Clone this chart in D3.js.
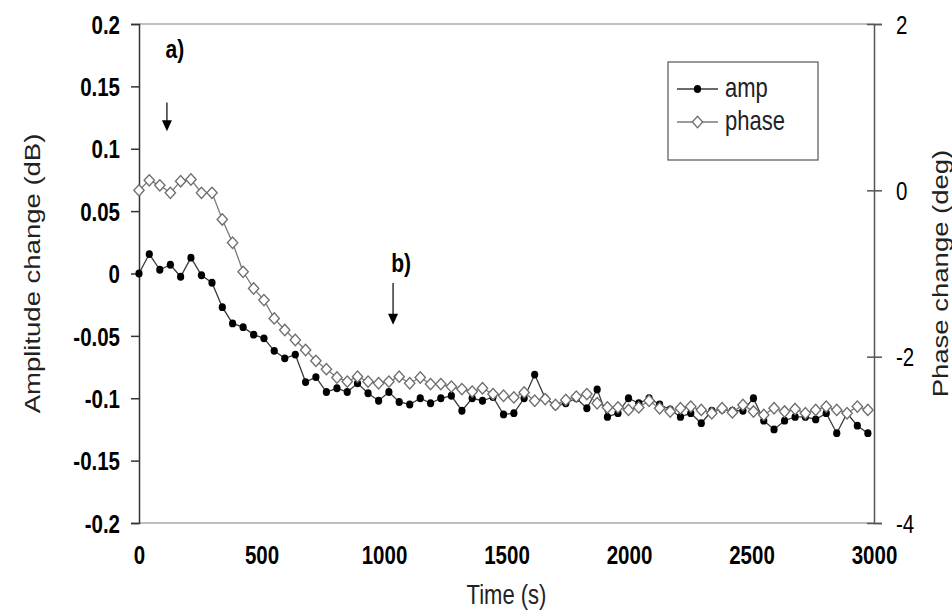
<!DOCTYPE html>
<html>
<head>
<meta charset="utf-8">
<script src="https://cdn.jsdelivr.net/npm/d3@7"></script>
<style>
  body { margin: 0; background: #fff; }
  text { font-family: "Liberation Sans", Arial, sans-serif; }
</style>
</head>
<body>
<div id="chart"></div>
<script>
// time axis (s)
var times = [0, 42, 85, 128, 170, 212, 255, 298, 340, 382, 425, 468, 510, 552, 595, 638, 680, 722, 765, 808,
  850, 892, 935, 978, 1020, 1062, 1105, 1148, 1190, 1232, 1275, 1318, 1360, 1402, 1445, 1488, 1530, 1572, 1615, 1658,
  1700, 1742, 1785, 1828, 1870, 1912, 1955, 1998, 2040, 2082, 2125, 2168, 2210, 2252, 2295, 2338, 2380, 2422, 2465, 2508,
  2550, 2592, 2635, 2678, 2720, 2762, 2805, 2848, 2890, 2932, 2975];

// amplitude change (dB)
var ampValues = [0, 0.0156, 0.003, 0.007, -0.0026, 0.0127, -0.0014, -0.0074, -0.027, -0.040,
  -0.043, -0.049, -0.052, -0.062, -0.068, -0.065, -0.087, -0.083, -0.095, -0.092,
  -0.095, -0.088, -0.096, -0.102, -0.095, -0.103, -0.105, -0.100, -0.104, -0.100,
  -0.098, -0.110, -0.100, -0.102, -0.099, -0.113, -0.112, -0.100, -0.081, -0.100,
  -0.106, -0.104, -0.100, -0.108, -0.093, -0.115, -0.112, -0.100, -0.104, -0.100,
  -0.105, -0.109, -0.115, -0.112, -0.120, -0.110, -0.109, -0.110, -0.110, -0.100,
  -0.118, -0.125, -0.118, -0.115, -0.115, -0.117, -0.112, -0.128, -0.112, -0.122, -0.128];

// phase change (deg)
var phaseValues = [0, 0.12, 0.06, -0.03, 0.11, 0.13, -0.03, -0.03, -0.35, -0.63,
  -0.98, -1.18, -1.32, -1.54, -1.68, -1.80, -1.92, -2.05, -2.15, -2.25,
  -2.30, -2.24, -2.30, -2.32, -2.30, -2.24, -2.32, -2.25, -2.33, -2.33,
  -2.36, -2.39, -2.42, -2.38, -2.45, -2.47, -2.49, -2.43, -2.53, -2.51,
  -2.58, -2.52, -2.48, -2.45, -2.56, -2.61, -2.61, -2.64, -2.61, -2.53,
  -2.62, -2.66, -2.62, -2.60, -2.64, -2.68, -2.62, -2.67, -2.58, -2.66,
  -2.70, -2.62, -2.66, -2.63, -2.68, -2.64, -2.60, -2.64, -2.68, -2.60, -2.64];

var xTicks = [0, 500, 1000, 1500, 2000, 2500, 3000];
var ampTicks = [0.2, 0.15, 0.1, 0.05, 0, -0.05, -0.1, -0.15, -0.2];
var ampTickLabels = ["0.2", "0.15", "0.1", "0.05", "0", "-0.05", "-0.1", "-0.15", "-0.2"];
var phaseTicks = [2, 0, -2, -4];
var phaseTickLabels = ["2", "0", "-2", "-4"];

var seriesNames = ["amp", "phase"];
var noteLabels = ["a)", "b)"];
var noteTimes = [114, 1037];

var svgWidth = 952;
var svgHeight = 615;

var margin = { top: 24, right: 78, bottom: 92, left: 139 };
var width = svgWidth - margin.left - margin.right;
var height = svgHeight - margin.top - margin.bottom;

// the source picture is stretched vertically, so text is too
var stretch = 1.25;

var svg = d3.select("#chart")
  .append("svg")
  .attr("width", svgWidth)
  .attr("height", svgHeight);

var chartGroup = svg.append("g")
  .attr("transform", `translate(${margin.left}, ${margin.top})`);

var xScale = d3.scaleLinear().domain([0, 3000]).range([0, width]);
var yAmp = d3.scaleLinear().domain([-0.2, 0.2]).range([height, 0]);
var yPhase = d3.scaleLinear().domain([-4, 2]).range([height, 0]);

// plot frame: light top/bottom, dark axes
chartGroup.append("line")
  .attr("x1", 0).attr("x2", width).attr("y1", 0).attr("y2", 0)
  .attr("stroke", "#a8a8a8").attr("stroke-width", 1.5);
chartGroup.append("line")
  .attr("x1", 0).attr("x2", width).attr("y1", height).attr("y2", height)
  .attr("stroke", "#a8a8a8").attr("stroke-width", 1.5);

// left axis
var leftAxis = d3.axisLeft(yAmp)
  .tickValues(ampTicks)
  .tickSize(8)
  .tickPadding(11)
  .tickFormat((d, i) => ampTickLabels[i]);

var gLeft = chartGroup.append("g").call(leftAxis);
gLeft.select(".domain").attr("stroke", "#333").attr("stroke-width", 1.5);
gLeft.selectAll(".tick line").attr("stroke", "#333").attr("stroke-width", 1.5);
gLeft.selectAll(".tick text")
  .attr("font-family", "Liberation Sans, Arial, sans-serif")
  .attr("font-size", "20.5px")
  .attr("font-weight", "bold")
  .attr("fill", "#000")
  .attr("dy", "0.36em")
  .attr("transform", `scale(1, ${stretch})`);

// right axis (ticks cross the line)
var rightAxis = d3.axisRight(yPhase)
  .tickValues(phaseTicks)
  .tickSize(8)
  .tickPadding(14)
  .tickFormat((d, i) => phaseTickLabels[i]);

var gRight = chartGroup.append("g")
  .attr("transform", `translate(${width}, 0)`)
  .call(rightAxis);
gRight.select(".domain").attr("stroke", "#555").attr("stroke-width", 1.5);
gRight.selectAll(".tick line").attr("x1", -7).attr("stroke", "#555").attr("stroke-width", 1.5);
gRight.selectAll(".tick text")
  .attr("font-family", "Liberation Sans, Arial, sans-serif")
  .attr("font-size", "20.5px")
  .attr("fill", "#000")
  .attr("dy", "0.36em")
  .attr("transform", `scale(1, ${stretch})`);

// bottom axis: labels only
var bottomAxis = d3.axisBottom(xScale)
  .tickValues(xTicks)
  .tickSize(0)
  .tickPadding(0)
  .tickFormat(d3.format("d"));

var gBottom = chartGroup.append("g")
  .attr("transform", `translate(0, ${height})`)
  .call(bottomAxis);
gBottom.select(".domain").remove();
gBottom.selectAll(".tick text")
  .attr("font-family", "Liberation Sans, Arial, sans-serif")
  .attr("font-size", "20.5px")
  .attr("font-weight", "bold")
  .attr("fill", "#000")
  .attr("y", 32 / stretch)
  .attr("dy", "0.36em")
  .attr("transform", `scale(1, ${stretch})`);

// axis titles
chartGroup.append("text")
  .attr("transform", `translate(${-107}, ${height / 2}) rotate(-90) scale(${stretch}, 1)`)
  .attr("text-anchor", "middle")
  .attr("dy", "0.35em")
  .attr("font-size", "22px")
  .attr("fill", "#222")
  .text("Amplitude change (dB)");

chartGroup.append("text")
  .attr("transform", `translate(${width + 66}, ${height / 2}) rotate(-90) scale(${stretch}, 1)`)
  .attr("text-anchor", "middle")
  .attr("dy", "0.35em")
  .attr("font-size", "22px")
  .attr("fill", "#222")
  .text("Phase change (deg)");

chartGroup.append("text")
  .attr("transform", `translate(${width / 2}, ${height + 71}) scale(1, ${stretch})`)
  .attr("text-anchor", "middle")
  .attr("dy", "0.35em")
  .attr("font-size", "22px")
  .attr("fill", "#222")
  .text("Time (s)");

// amp series
var ampLine = d3.line()
  .x((d, i) => xScale(times[i]))
  .y(d => yAmp(d));

chartGroup.append("path")
  .datum(ampValues)
  .attr("d", ampLine)
  .attr("fill", "none")
  .attr("stroke", "#3a3a3a")
  .attr("stroke-width", 1.3);

chartGroup.append("g").selectAll("ellipse")
  .data(ampValues)
  .enter()
  .append("ellipse")
  .attr("cx", (d, i) => xScale(times[i]))
  .attr("cy", d => yAmp(d))
  .attr("rx", 3.6)
  .attr("ry", 3.9)
  .attr("fill", "#000");

// phase series
var phaseLine = d3.line()
  .x((d, i) => xScale(times[i]))
  .y(d => yPhase(d));

chartGroup.append("path")
  .datum(phaseValues)
  .attr("d", phaseLine)
  .attr("fill", "none")
  .attr("stroke", "#7a7a7a")
  .attr("stroke-width", 1.3);

var diamond = d3.symbol().type(d3.symbolDiamond2).size(68);

chartGroup.append("g").selectAll("path")
  .data(phaseValues)
  .enter()
  .append("path")
  .attr("d", diamond)
  .attr("transform", (d, i) => `translate(${xScale(times[i])}, ${yPhase(d)}) scale(1, 1.1)`)
  .attr("fill", "#fff")
  .attr("stroke", "#6e6e6e")
  .attr("stroke-width", 1.3);

// annotations a) and b): label centre, arrow start, arrow tip (amp units)
var noteY = [[0.180, 0.137, 0.114], [0.0084, -0.0076, -0.041]];
var notes = chartGroup.append("g");
noteLabels.forEach(function(label, i) {
  var nx = xScale(noteTimes[i]);
  notes.append("text")
    .attr("transform", `translate(${nx + 8}, ${yAmp(noteY[i][0])}) scale(1, ${stretch})`)
    .attr("text-anchor", "middle")
    .attr("dy", "0.36em")
    .attr("font-size", "21px")
    .attr("font-weight", "bold")
    .attr("fill", "#000")
    .text(label);
  var tip = yAmp(noteY[i][2]);
  notes.append("line")
    .attr("x1", nx).attr("x2", nx)
    .attr("y1", yAmp(noteY[i][1]))
    .attr("y2", tip - 10)
    .attr("stroke", "#000")
    .attr("stroke-width", 1.2);
  notes.append("path")
    .attr("d", `M${nx - 5},${tip - 11} L${nx + 5},${tip - 11} L${nx},${tip} Z`)
    .attr("fill", "#000");
});

// legend
var legend = svg.append("g").attr("transform", "translate(668, 62)");
legend.append("rect")
  .attr("width", 150).attr("height", 98)
  .attr("fill", "#fff")
  .attr("stroke", "#555")
  .attr("stroke-width", 1.2);

seriesNames.forEach(function(name, i) {
  var ly = 27 + i * 33;
  var row = legend.append("g").attr("transform", `translate(0, ${ly})`);
  row.append("line")
    .attr("x1", 9).attr("x2", 50)
    .attr("stroke", i === 0 ? "#3a3a3a" : "#7a7a7a")
    .attr("stroke-width", 1.3);
  if (i === 0) {
    row.append("ellipse").attr("cx", 29.5).attr("rx", 3.6).attr("ry", 3.9).attr("fill", "#000");
  } else {
    row.append("path").attr("d", diamond)
      .attr("transform", "translate(29.5, 0) scale(1, 1.1)")
      .attr("fill", "#fff").attr("stroke", "#6e6e6e").attr("stroke-width", 1.3);
  }
  row.append("text")
    .attr("transform", `translate(57, 0) scale(1, ${stretch})`)
    .attr("dy", "0.3em")
    .attr("font-size", "22px")
    .attr("fill", "#222")
    .text(name);
});
</script>
</body>
</html>
